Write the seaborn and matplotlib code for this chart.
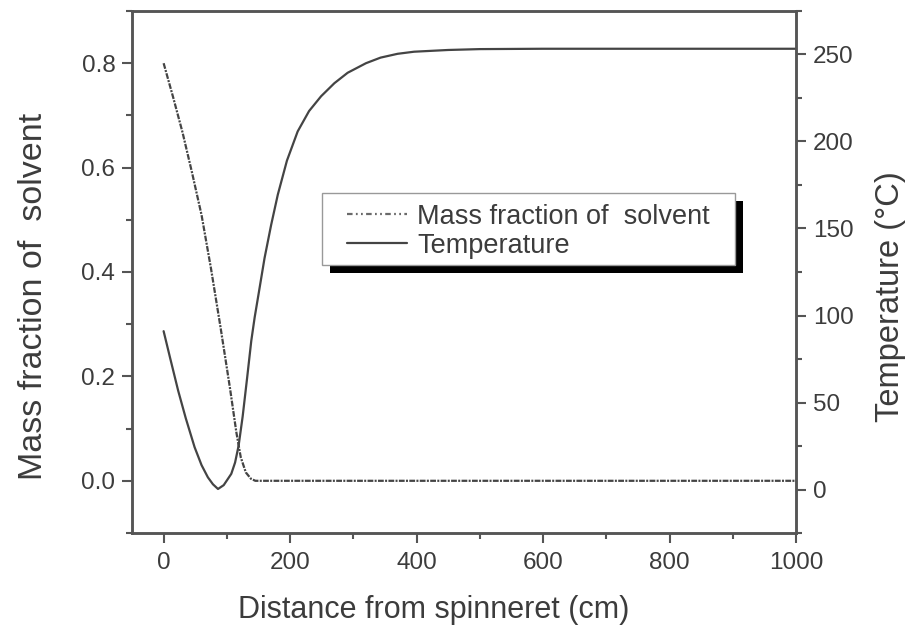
import numpy as np
import pandas as pd
import matplotlib
matplotlib.use('Agg')
from matplotlib import pyplot as plt
from matplotlib.patches import Rectangle
from matplotlib.lines import Line2D
from matplotlib.ticker import MultipleLocator
import seaborn as sns

# values
dist_mf = [0, 15, 30, 45, 60, 75, 90, 105, 115, 122, 130, 138, 145, 200, 400, 600, 800, 1000]
mass_frac = [0.800, 0.735, 0.667, 0.590, 0.509, 0.406, 0.294, 0.177, 0.093, 0.045,
             0.016, 0.004, 0.0, 0.0, 0.0, 0.0, 0.0, 0.0]

dist_t = [0, 10, 23, 35, 49, 60, 70, 78, 86, 95, 107, 113, 118.6, 125, 132, 138.6, 144,
          150, 159.6, 170, 180.6, 195, 212, 230, 249, 270, 291, 320, 343, 370, 396,
          450, 500, 600, 800, 1000]
temp = [91, 76, 56.8, 41, 24.3, 14, 7, 3, 0.3, 2.5, 9, 15.5, 25.2, 42, 64, 85.4, 99,
        112, 133, 152, 169.5, 189, 205.8, 217.5, 226, 233.5, 239.5, 245, 248.2, 250.4, 251.6,
        252.6, 253.1, 253.3, 253.3, 253.3]

labels = ['Mass fraction of  solvent', 'Temperature']

sns.set_style('ticks')
plt.rcParams['font.family'] = ['Liberation Sans', 'DejaVu Sans']

ink = '#3c3c3c'
spine_c = '#555555'
line_c = '#444444'

fig = plt.figure(figsize=(9.14, 6.26), dpi=100)
ax = fig.add_axes([132 / 914, 1 - 533 / 626, 664 / 914, 522 / 626])
ax2 = ax.twinx()

sns.lineplot(x=dist_mf, y=mass_frac, ax=ax, color=line_c, lw=1.6,
             linestyle=(0, (2.6, 0.6, 0.9, 0.6)), legend=False)
sns.lineplot(x=dist_t, y=temp, ax=ax2, color=line_c, lw=1.6, legend=False)

ax.set_xlim(-50, 1000)
ax.set_ylim(-0.1, 0.9)
ax2.set_ylim(-25, 275)

ax.xaxis.set_major_locator(MultipleLocator(200))
ax.xaxis.set_minor_locator(MultipleLocator(100))
ax.yaxis.set_minor_locator(MultipleLocator(0.1))
ax.set_yticks([0.0, 0.2, 0.4, 0.6, 0.8])
ax2.yaxis.set_minor_locator(MultipleLocator(25))
ax2.set_yticks([0, 50, 100, 150, 200, 250])

for a in (ax, ax2):
    for s in a.spines.values():
        s.set_color(spine_c)
        s.set_linewidth(1.8)
    a.tick_params(which='major', length=7, width=1.5, color=spine_c, labelsize=17.5,
                  labelcolor=ink, pad=5)
    a.tick_params(which='minor', length=4, width=1.5, color=spine_c)
ax.tick_params(axis='x', pad=7)

ax.set_xlabel('Distance from spinneret (cm)', fontsize=22, color=ink)
ax.set_ylabel('Mass fraction of  solvent', fontsize=24.5, color=ink)
ax2.set_ylabel('Temperature (°C)', fontsize=23.5, color=ink)
ax.xaxis.set_label_coords(0.455, -0.118)
ax.yaxis.set_label_coords(-0.125, 0.453)
ax2.yaxis.set_label_coords(1.119, 0.452)

# legend box with a hard black shadow, drawn as two rectangles
box_x, box_y, box_w, box_h = 0.286, 0.513, 0.622, 0.138
ax2.add_patch(Rectangle((box_x + 8 / 664, box_y - 8 / 522), box_w, box_h, transform=ax2.transAxes,
                        facecolor='black', edgecolor='none', zorder=5))
ax2.add_patch(Rectangle((box_x, box_y), box_w, box_h, transform=ax2.transAxes,
                        facecolor='white', edgecolor='#999999', lw=1.0, zorder=5.5))

handles = [Line2D([], [], color='#6a6a6a', lw=1.6, linestyle=(0, (2.5, 1.5, 0.8, 1.5, 0.8, 1.5))),
           Line2D([], [], color=line_c, lw=1.6)]
leg = ax2.legend(handles, labels, loc='upper left', bbox_to_anchor=(0.3238, 0.6305),
                 borderaxespad=0, borderpad=0, fontsize=19.5, frameon=False,
                 handlelength=2.2, handletextpad=0.4, labelspacing=0.1,
                 labelcolor=ink)
leg.set_zorder(6)

fig.savefig('out.png', dpi=100)
